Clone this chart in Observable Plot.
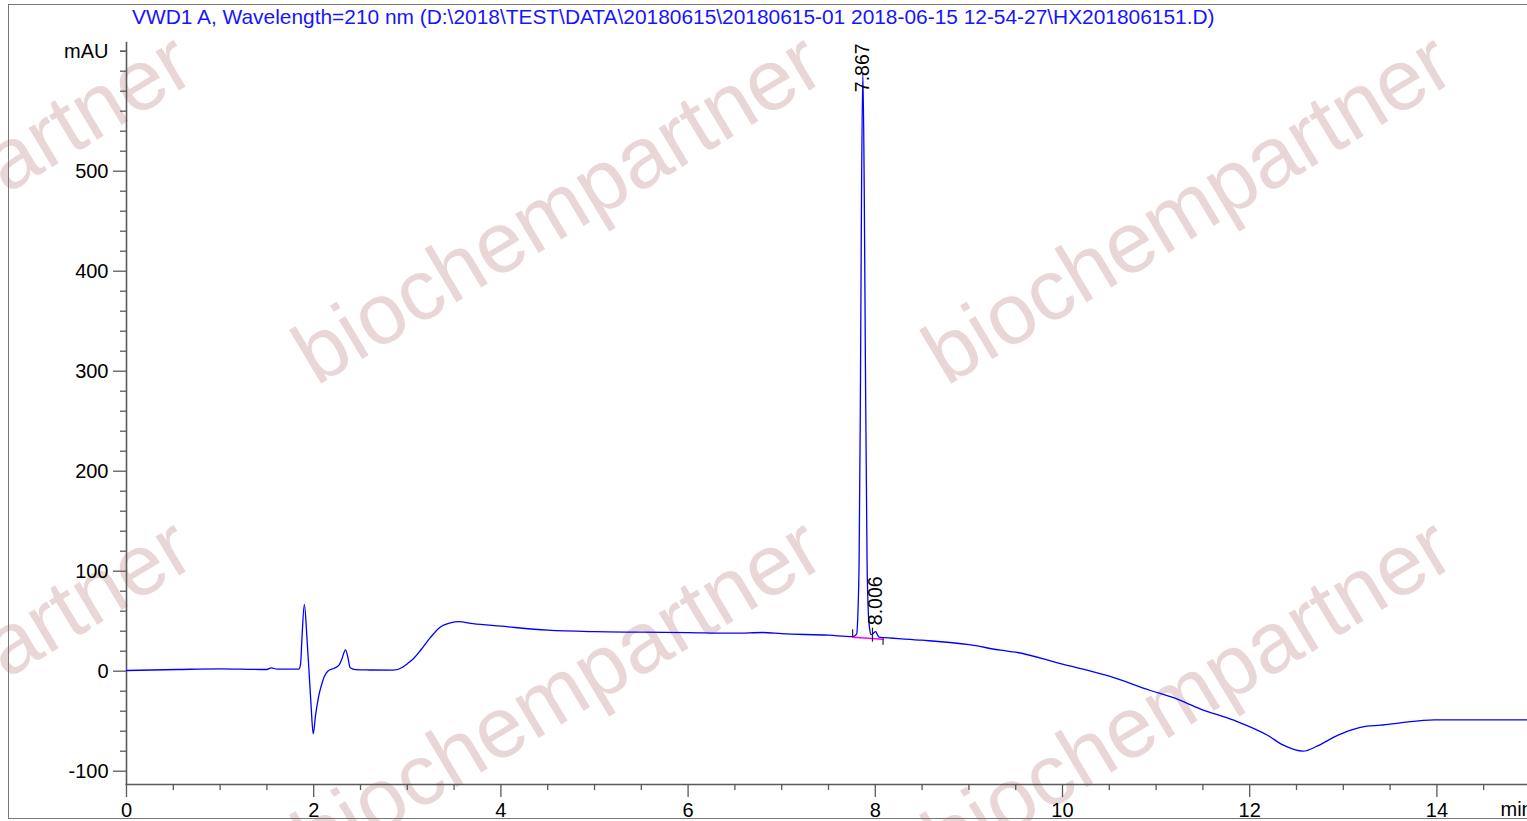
<!DOCTYPE html>
<html>
<head>
<meta charset="utf-8">
<script src="https://cdn.jsdelivr.net/npm/d3@7"></script>
<script src="https://cdn.jsdelivr.net/npm/@observablehq/plot@0.6"></script>
<style>
  html, body { margin: 0; padding: 0; background: #fff; overflow: hidden; }
  #page { position: relative; width: 1527px; height: 821px; overflow: hidden; font-family: "Liberation Sans", Arial, sans-serif; }
  #wm { position: absolute; left: 0; top: 0; width: 1527px; height: 821px; z-index: 0; }
  .wm { position: absolute; width: 0; height: 0; }
  .wm span { position: absolute; left: 0; top: 0; white-space: nowrap; font-size: 86px; line-height: 1; color: #e9d7d7;
             transform: translate(-50%, -50%) rotate(-31deg); font-family: "Liberation Sans", Arial, sans-serif; }
  #border { position: absolute; left: 8px; top: 4px; width: 1530px; height: 813px; border: 1.5px solid #777; border-right: none; z-index: 1; }
  #chart { position: absolute; left: 0; top: 0; z-index: 2; }
  #title { position: absolute; left: 132px; top: 7.3px; font-size: 20.9px; line-height: 1; color: #1515ff; white-space: nowrap; z-index: 3; }
</style>
</head>
<body>
<div id="page">
  <div id="wm"></div>
  <div id="border"></div>
  <div id="chart"></div>
  <div id="title"></div>
</div>
<script>
// ---- data ----
const titleText = "VWD1 A, Wavelength=210 nm (D:\\2018\\TEST\\DATA\\20180615\\20180615-01 2018-06-15 12-54-27\\HX201806151.D)";
const watermarkText = "biochempartner";

// retention time (min)
const times = [
  0, 0.54, 1.0, 1.43, 1.50, 1.545, 1.61, 1.84, 1.86, 1.873, 1.90, 1.93, 1.95, 1.973, 1.995,
  2.02, 2.04, 2.06, 2.08, 2.11, 2.15, 2.22, 2.27, 2.30, 2.34, 2.365, 2.39, 2.45, 2.6, 2.85,
  2.95, 3.0, 3.07, 3.14, 3.25, 3.35, 3.46, 3.55, 3.7, 4.0, 4.5, 5.0, 5.5, 6.0, 6.5, 6.8, 7.0,
  7.5, 7.758, 7.80, 7.815, 7.827, 7.84, 7.853, 7.867, 7.882, 7.895, 7.912, 7.925, 7.94, 7.955,
  7.975, 7.99, 8.006, 8.02, 8.04, 8.1, 8.5, 9.0, 9.34, 9.5, 10.0, 10.41, 10.5, 10.94, 11.2,
  11.47, 11.83, 12.19, 12.36, 12.57, 12.72, 12.9, 13.08, 13.25, 13.4, 13.61, 13.97, 14.5, 15.0
];
// absorbance (mAU)
const mAU = [
  0.7, 1.7, 2.4, 1.7, 1.7, 3.4, 2.0, 2.0, 7.4, 30, 66.7, 30, 0, -36, -62.6,
  -44, -32, -22, -15, -6, 0, 3, 6, 12, 21.4, 14, 3.4, 1.5, 1.2, 1.0,
  4, 7.4, 13, 20.7, 34, 44, 48.4, 49.5, 47.5, 45, 41, 39.5, 39, 38.5, 38, 38.7, 37.5,
  36, 34.5, 37, 60, 110, 260, 480, 599, 480, 300, 110, 60, 42, 36.5,
  37.5, 39, 39.5, 37, 34, 33.5, 31, 26.5, 21, 19, 7, -2.6, -5, -19.3, -27,
  -37.6, -49, -64, -74, -80, -75, -66, -59, -55, -54, -51.6, -48.6, -48.6, -48.6
];

// integrated peaks
const peakTimes = [7.867, 8.006];
const peakLabels = ["7.867", "8.006"];
const peakLabelLevels = [579, 46];

// integration baseline (start, end)
const baselineTimes = [7.758, 8.083];
const baselineLevels = [34, 32];

// integration event markers
const markerTimes = [7.758, 7.97, 8.083];
const markerTop = [41.5, 43, 32.5];
const markerBottom = [34, 29, 26];

// axes
const xMajorTicks = [0, 2, 4, 6, 8, 10, 12, 14];
const xMinorTicks = [0.5, 1, 1.5, 2.5, 3, 3.5, 4.5, 5, 5.5, 6.5, 7, 7.5, 8.5, 9, 9.5, 10.5, 11, 11.5, 12.5, 13, 13.5, 14.5];
const yMajorTicks = [-100, 0, 100, 200, 300, 400, 500];
const yMinorTicks = [-80, -60, -40, -20, 20, 40, 60, 80, 120, 140, 160, 180, 220, 240, 260, 280, 320, 340, 360, 380, 420, 440, 460, 480, 520, 540, 560, 580, 600, 620];
const yUnitTick = [620];
const yUnit = "mAU";
const xUnit = "min";

// ---- build ----
document.getElementById("title").textContent = titleText;

const wmCenters = [[-73, 207], [557, 207], [1187, 207], [-73, 692], [557, 692], [1187, 692]];
const wm = document.getElementById("wm");
for (const [cx, cy] of wmCenters) {
  const d = document.createElement("div");
  d.className = "wm";
  d.style.left = cx + "px";
  d.style.top = cy + "px";
  const s = document.createElement("span");
  s.textContent = watermarkText;
  d.appendChild(s);
  wm.appendChild(d);
}

const trace = times.map((t, i) => ({t, v: mAU[i]}));
const peaks = peakTimes.map((t, i) => ({t, level: peakLabelLevels[i], label: peakLabels[i]}));
const baseline = baselineTimes.map((t, i) => ({t, v: baselineLevels[i]}));
const markers = markerTimes.map((t, i) => ({t, top: markerTop[i], bottom: markerBottom[i]}));

const axisColor = "#5a5a5a";
const font = "'Liberation Sans', Arial, sans-serif";
const plain = d => String(d);

const chart = Plot.plot({
  width: 1527,
  height: 821,
  marginLeft: 126,
  marginRight: 0,
  marginTop: 42,
  marginBottom: 37,
  style: {background: "transparent", fontFamily: font, overflow: "visible"},
  x: {domain: [0, 14.968], label: null},
  y: {domain: [-113.3, 628.7], label: null},
  marks: [
    Plot.frame({anchor: "left", stroke: axisColor, strokeWidth: 1.6}),
    Plot.frame({anchor: "bottom", stroke: axisColor, strokeWidth: 1.6}),
    Plot.axisY(yMinorTicks, {anchor: "left", tickSize: 6, tickFormat: () => "", stroke: axisColor, strokeWidth: 1.3, label: null}),
    Plot.axisY(yMajorTicks, {anchor: "left", tickSize: 13, tickPadding: 5, fontSize: 20, fill: "black", stroke: axisColor, strokeWidth: 1.3, tickFormat: plain, label: null}),
    Plot.axisY(yUnitTick, {anchor: "left", tickSize: 6, tickPadding: 12, fontSize: 20, fill: "black", stroke: axisColor, strokeWidth: 1.3, tickFormat: () => yUnit, label: null}),
    Plot.axisX(xMinorTicks, {anchor: "bottom", tickSize: 6, tickFormat: () => "", stroke: axisColor, strokeWidth: 1.3, label: null}),
    Plot.axisX(xMajorTicks, {anchor: "bottom", tickSize: 13, tickPadding: 5, fontSize: 20, fill: "black", stroke: axisColor, strokeWidth: 1.3, tickFormat: plain, label: null}),
    Plot.text([xUnit], {frameAnchor: "bottom-right", textAnchor: "start", lineAnchor: "middle", dx: -27, dy: 25, fontSize: 20, fill: "black"}),
    Plot.line(trace, {x: "t", y: "v", stroke: "#0000ff", strokeWidth: 1.3, curve: "monotone-x"}),
    Plot.line(baseline, {x: "t", y: "v", stroke: "#ff00ff", strokeWidth: 1.5}),
    Plot.ruleX(markers, {x: "t", y1: "bottom", y2: "top", stroke: "#222", strokeWidth: 1.2}),
    Plot.text(peaks, {x: "t", y: "level", text: "label", rotate: -90, textAnchor: "start", lineAnchor: "middle", fontSize: 19.5, fill: "black"})
  ]
});
document.getElementById("chart").appendChild(chart);
</script>
</body>
</html>
